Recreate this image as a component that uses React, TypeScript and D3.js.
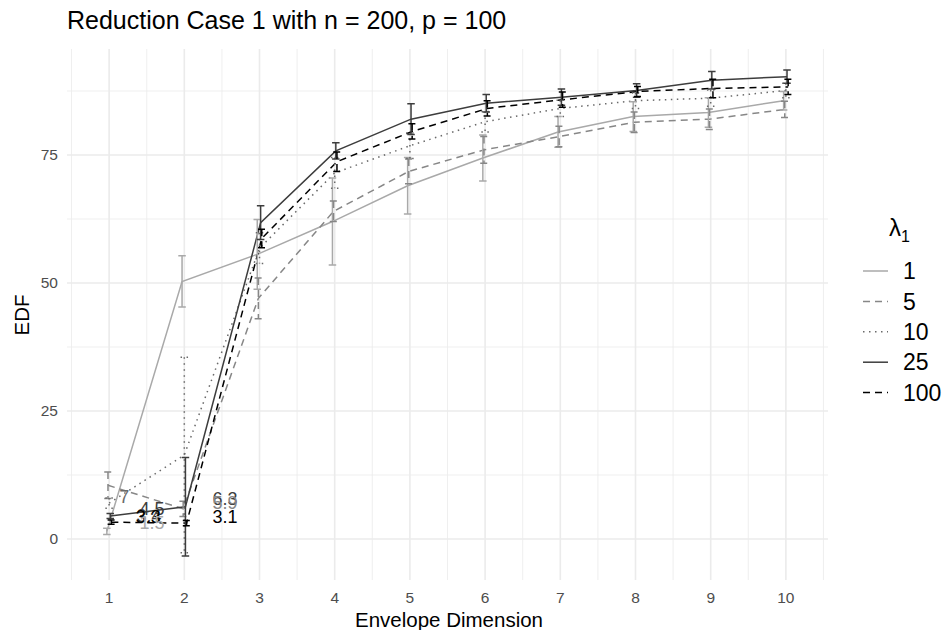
import React from "react";
import * as d3 from "d3";

// envelope dimensions on the x axis
const dims = [1, 2, 3, 4, 5, 6, 7, 8, 9, 10];
const lambdas = ["1", "5", "10", "25", "100"];

// mean EDF per lambda
const edf1 = [1.5, 50.3, 55.6, 62.0, 69.0, 74.4, 79.5, 82.5, 83.3, 85.6];
const edf5 = [10.5, 5.9, 47.0, 64.0, 71.8, 76.0, 78.6, 81.4, 82.0, 83.9];
const edf10 = [7.0, 16.4, 56.8, 71.5, 76.8, 81.5, 84.1, 85.6, 86.1, 87.6];
const edf25 = [4.5, 6.3, 61.8, 75.8, 82.0, 85.1, 86.3, 87.6, 89.6, 90.3];
const edf100 = [3.3, 3.1, 58.7, 73.7, 79.6, 84.1, 85.8, 87.4, 88.0, 88.3];

// half widths of the error bars
const err1 = [0.6, 5.0, 6.8, 8.5, 5.5, 4.5, 3.0, 2.9, 2.9, 1.8];
const err5 = [2.6, 1.5, 4.0, 2.0, 2.4, 2.6, 2.0, 2.0, 2.0, 1.6];
const err10 = [1.0, 19.1, 3.0, 3.0, 2.5, 2.0, 1.6, 1.5, 1.6, 1.4];
const err25 = [0.5, 9.6, 3.3, 1.6, 3.0, 1.7, 1.6, 1.3, 1.7, 1.3];
const err100 = [0.4, 0.5, 1.8, 1.9, 1.5, 1.5, 1.5, 1.0, 1.8, 1.5];

// value labels near the first two dimensions
const labelText = ["7", "4.5", "3.4", "3.3", "1.5", "6.3", "5.9", "3.1"];
const labelX = [1.2, 1.57, 1.53, 1.52, 1.57, 2.54, 2.54, 2.54];
const labelY = [8.3, 6.0, 4.6, 4.3, 3.2, 7.8, 7.0, 4.3];
const labelSeries = [2, 3, 3, 4, 0, 3, 1, 4];

const xTicks = [1, 2, 3, 4, 5, 6, 7, 8, 9, 10];
const yTicks = [0, 25, 50, 75];

const means = [edf1, edf5, edf10, edf25, edf100];
const errs = [err1, err5, err10, err25, err100];
const colors = ["#a9a9a9", "#878787", "#6a6a6a", "#3d3d3d", "#000000"];
const dashes = ["", "7,5", "1.5,4.5", "", "7,5"];
const dodge = [-0.03, -0.015, 0, 0.015, 0.03];

const font = "'Liberation Sans', Arial, sans-serif";

export default function App() {
  const W = 945;
  const H = 630;
  const x = d3.scaleLinear().domain([0.44, 10.56]).range([67, 828]);
  const y = d3.scaleLinear().domain([-8, 95.7]).range([580, 49]);

  const minorX = d3.range(0.5, 11, 1);
  const minorY = [12.5, 37.5, 62.5, 87.5];

  const line = d3
    .line<[number, number]>()
    .x((d) => x(d[0]))
    .y((d) => y(d[1]));

  const capHalf = 0.05;

  return (
    <svg
      width={W}
      height={H}
      style={{ position: "absolute", left: 0, top: 0, background: "#fff" }}
      fontFamily={font}
    >
      {/* grid */}
      <g>
        {minorY.map((v) => (
          <line key={"my" + v} x1={67} x2={828} y1={y(v)} y2={y(v)} stroke="#ebebeb" strokeWidth={0.8} />
        ))}
        {minorX.map((v) => (
          <line key={"mx" + v} x1={x(v)} x2={x(v)} y1={49} y2={580} stroke="#ebebeb" strokeWidth={0.8} />
        ))}
        {yTicks.map((v) => (
          <line key={"gy" + v} x1={67} x2={828} y1={y(v)} y2={y(v)} stroke="#ebebeb" strokeWidth={1.6} />
        ))}
        {xTicks.map((v) => (
          <line key={"gx" + v} x1={x(v)} x2={x(v)} y1={49} y2={580} stroke="#ebebeb" strokeWidth={1.6} />
        ))}
      </g>

      {/* lines */}
      {means.map((m, s) => (
        <path
          key={"l" + s}
          d={line(dims.map((d, i) => [d + dodge[s], m[i]]))}
          fill="none"
          stroke={colors[s]}
          strokeWidth={1.5}
          strokeDasharray={dashes[s]}
        />
      ))}

      {/* error bars */}
      {means.map((m, s) => (
        <g key={"e" + s} stroke={colors[s]} strokeWidth={1.5} strokeDasharray={dashes[s]} fill="none">
          {dims.map((d, i) => {
            const cx = d + dodge[s];
            const lo = y(m[i] - errs[s][i]);
            const hi = y(m[i] + errs[s][i]);
            return (
              <path
                key={i}
                d={`M${x(cx - capHalf)},${hi}H${x(cx + capHalf)}M${x(cx)},${hi}V${lo}M${x(cx - capHalf)},${lo}H${x(cx + capHalf)}`}
              />
            );
          })}
        </g>
      ))}

      {/* value labels */}
      {labelText.map((t, i) => (
        <text
          key={"t" + i}
          x={x(labelX[i])}
          y={y(labelY[i])}
          dy="0.35em"
          textAnchor="middle"
          fontSize={18}
          fill={colors[labelSeries[i]]}
        >
          {t}
        </text>
      ))}

      {/* axes text */}
      {xTicks.map((v) => (
        <text key={"xt" + v} x={x(v)} y={603} textAnchor="middle" fontSize={15.5} fill="#4d4d4d">
          {v}
        </text>
      ))}
      {yTicks.map((v) => (
        <text key={"yt" + v} x={58} y={y(v)} dy="0.35em" textAnchor="end" fontSize={15.5} fill="#4d4d4d">
          {v}
        </text>
      ))}
      <text x={449} y={627} textAnchor="middle" fontSize={20.5} fill="#000">
        Envelope Dimension
      </text>
      <text transform="translate(29,315) rotate(-90)" textAnchor="middle" fontSize={20.5} fill="#000">
        EDF
      </text>
      <text x={67} y={29} fontSize={25} fill="#000">
        Reduction Case 1 with n = 200, p = 100
      </text>

      {/* legend */}
      <g>
        <text x={889} y={236} fontSize={24} fill="#000">
          λ<tspan fontSize={16} dy={6}>1</tspan>
        </text>
        {lambdas.map((l, s) => {
          const ly = 271 + s * 30.4;
          return (
            <g key={"lg" + l}>
              <line x1={863} x2={888} y1={ly} y2={ly} stroke={colors[s]} strokeWidth={1.5} strokeDasharray={dashes[s]} />
              <text x={903} y={ly} dy="0.36em" fontSize={23} fill="#000">
                {l}
              </text>
            </g>
          );
        })}
      </g>
    </svg>
  );
}
